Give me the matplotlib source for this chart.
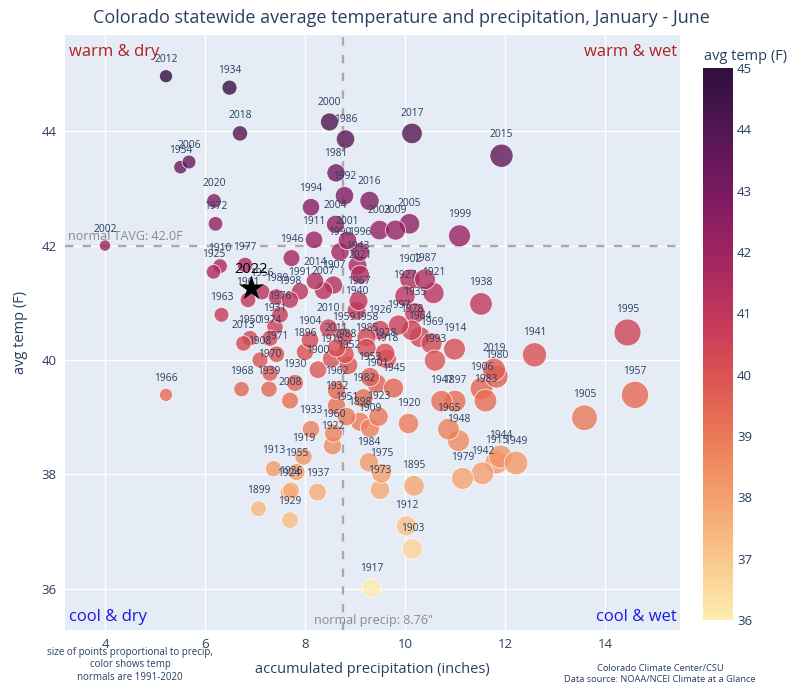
import matplotlib
matplotlib.use("Agg")
import matplotlib.pyplot as plt
from matplotlib.colors import LinearSegmentedColormap, Normalize
import numpy as np

plt.rcParams['font.family'] = ['Open Sans', 'DejaVu Sans']

years = [1895, 1896, 1897, 1898, 1899, 1900, 1901, 1902, 1903, 1904,
         1905, 1906, 1907, 1908, 1909, 1910, 1911, 1912, 1913, 1914,
         1915, 1916, 1917, 1918, 1919, 1920, 1921, 1922, 1923, 1924,
         1925, 1926, 1927, 1928, 1929, 1930, 1931, 1932, 1933, 1934,
         1935, 1936, 1937, 1938, 1939, 1940, 1941, 1942, 1943, 1944,
         1945, 1946, 1947, 1948, 1949, 1950, 1951, 1952, 1953, 1954,
         1955, 1956, 1957, 1958, 1959, 1960, 1961, 1962, 1963, 1964,
         1965, 1966, 1967, 1968, 1969, 1970, 1971, 1972, 1973, 1974,
         1975, 1976, 1977, 1978, 1979, 1980, 1981, 1982, 1983, 1984,
         1985, 1986, 1987, 1988, 1989, 1990, 1991, 1992, 1993, 1994,
         1995, 1996, 1997, 1998, 1999, 2000, 2001, 2002, 2003, 2004,
         2005, 2006, 2007, 2008, 2009, 2010, 2011, 2012, 2013, 2014,
         2015, 2016, 2017, 2018, 2019, 2020, 2021]

precip = [10.18, 8.00, 11.00, 9.10, 7.07, 8.26, 9.43, 10.10, 10.15, 8.10,
          13.59, 11.53, 8.57, 7.10, 9.30, 6.30, 8.18, 10.03, 7.37, 10.99,
          11.83, 8.53, 9.33, 9.63, 7.97, 10.07, 10.57, 8.55, 9.47, 7.67,
          6.17, 9.50, 10.00, 9.60, 7.70, 7.80, 7.40, 8.63, 8.12, 6.49,
          10.20, 7.72, 8.25, 11.52, 7.28, 9.03, 12.59, 11.55, 9.05, 11.91,
          9.77, 7.73, 10.73, 11.07, 12.22, 6.90, 8.83, 8.87, 9.30, 5.51,
          7.83, 7.14, 14.60, 9.23, 8.77, 8.57, 6.86, 8.63, 6.33, 10.30,
          10.87, 5.22, 9.07, 6.73, 10.53, 7.30, 7.43, 6.21, 9.50, 7.30,
          9.53, 7.50, 6.80, 10.13, 11.15, 11.83, 8.62, 9.17, 11.61, 9.28,
          9.23, 8.81, 10.40, 8.80, 7.43, 8.70, 7.90, 8.79, 10.60, 8.12,
          14.45, 9.10, 9.87, 7.70, 11.09, 8.49, 8.85, 4.00, 9.49, 8.61,
          10.09, 5.68, 8.37, 7.70, 9.81, 8.47, 8.63, 5.22, 6.77, 8.20,
          11.93, 9.29, 10.14, 6.70, 11.78, 6.18, 9.10]

temp = [37.80, 40.14, 39.28, 38.92, 37.40, 39.83, 39.59, 41.41, 36.70, 40.35,
        38.99, 39.50, 41.31, 40.00, 38.81, 41.64, 42.10, 37.10, 38.10, 40.19,
        38.21, 40.02, 36.01, 40.02, 38.31, 38.89, 41.17, 38.50, 39.01, 37.69,
        41.54, 40.52, 41.12, 40.12, 37.20, 39.60, 40.58, 39.20, 38.79, 44.76,
        40.82, 37.72, 37.69, 40.98, 39.49, 40.86, 40.09, 38.02, 41.65, 38.31,
        39.51, 41.78, 39.28, 38.59, 38.20, 40.38, 39.01, 39.91, 39.70, 43.37,
        38.04, 41.19, 39.39, 40.40, 40.40, 38.72, 41.05, 39.47, 40.79, 40.40,
        38.79, 39.39, 41.03, 39.49, 40.29, 39.77, 40.10, 42.38, 37.73, 40.38,
        38.02, 40.79, 41.66, 40.52, 37.93, 39.71, 43.27, 39.33, 39.29, 38.21,
        40.21, 43.86, 41.41, 40.10, 41.10, 41.89, 41.20, 42.87, 39.99, 42.67,
        40.48, 41.89, 40.61, 41.05, 42.17, 44.16, 42.09, 42.00, 42.27, 42.37,
        42.38, 43.46, 41.21, 39.29, 42.27, 40.56, 40.21, 44.96, 40.29, 41.38,
        43.57, 42.78, 43.96, 43.96, 39.83, 42.78, 41.49]

year_2022 = 2022
precip_2022 = 6.93
temp_2022 = 41.25

normal_precip = 8.76
normal_tavg = 42.0

x_ticks = [4, 6, 8, 10, 12, 14]
y_ticks = [36, 38, 40, 42, 44]
cbar_ticks = [36, 37, 38, 39, 40, 41, 42, 43, 44, 45]

matter = [(253, 237, 176), (250, 205, 145), (246, 173, 119), (240, 142, 98),
          (231, 109, 84), (216, 80, 83), (195, 56, 90), (168, 40, 96),
          (138, 29, 99), (107, 24, 93), (76, 21, 80), (47, 15, 61)]
cmap = LinearSegmentedColormap.from_list('matter', [tuple(c / 255 for c in rgb) for rgb in matter])
norm = Normalize(vmin=36, vmax=45)

W, H, DPI = 809, 687, 100
fig = plt.figure(figsize=(W / DPI, H / DPI), dpi=DPI)
fig.patch.set_facecolor('white')

L, R, T, B = 65, 680, 35, 630
ax = fig.add_axes([L / W, 1 - B / H, (R - L) / W, (B - T) / H])
ax.set_facecolor('#E5ECF6')
ax.set_xlim(3.2, 15.5)
ax.set_ylim(35.28, 45.68)
for s in ax.spines.values():
    s.set_visible(False)
ax.set_xticks(x_ticks)
ax.set_yticks(y_ticks)
ax.grid(True, color='white', linewidth=1.0)
ax.set_axisbelow(True)
ax.tick_params(length=0, labelsize=9.5, colors='#2a3f5f', pad=6)

px2pt = 72 / DPI
prec = np.array(precip)
tmp = np.array(temp)
diam_px = 5.3 + 1.5 * prec
sizes = (diam_px * px2pt) ** 2

ax.axhline(normal_tavg, color='#a9a9a9', lw=1.7, ls=(0, (3.5, 4)), zorder=1)
ax.axvline(normal_precip, color='#a9a9a9', lw=1.7, ls=(0, (3.5, 4)), zorder=1)

ax.scatter(prec, tmp, s=sizes, c=tmp, cmap=cmap, norm=norm, alpha=0.8,
           edgecolors='white', linewidths=0.6, zorder=3)

for yr, xv, yv, d in zip(years, prec, tmp, diam_px):
    ax.annotate(str(yr), (xv, yv), xytext=(0, (d / 2 + 10) * px2pt),
                textcoords='offset points', ha='center', va='center',
                fontsize=7.4, color='#2a3f5f', zorder=5)

ax.scatter([precip_2022], [temp_2022], marker='*', s=(26 * px2pt) ** 2,
           color='black', zorder=6, linewidths=0)
ax.annotate(str(year_2022), (precip_2022, temp_2022), xytext=(0, 19 * px2pt),
            textcoords='offset points', ha='center', va='center',
            fontsize=10.5, color='black', zorder=7)

ax.text(3.27, normal_tavg + 0.04, 'normal TAVG: 42.0F', fontsize=9,
        color='#8a8a8a', ha='left', va='bottom', zorder=4)
ax.text(normal_precip + 0.6, 35.33, 'normal precip: 8.76"', fontsize=9,
        color='#8a8a8a', ha='center', va='bottom', zorder=4)

ax.text(0.006, 0.985, 'warm & dry', transform=ax.transAxes, ha='left', va='top',
        fontsize=12, color='#b22222')
ax.text(0.995, 0.985, 'warm & wet', transform=ax.transAxes, ha='right', va='top',
        fontsize=12, color='#b22222')
ax.text(0.006, 0.008, 'cool & dry', transform=ax.transAxes, ha='left', va='bottom',
        fontsize=12, color='#1a1ae6')
ax.text(0.995, 0.008, 'cool & wet', transform=ax.transAxes, ha='right', va='bottom',
        fontsize=12, color='#1a1ae6')

ax.set_xlabel('accumulated precipitation (inches)', fontsize=10.5, color='#2a3f5f', labelpad=8)
ax.set_ylabel('avg temp (F)', fontsize=10.5, color='#2a3f5f', labelpad=10)

fig.text(0.496, 1 - 18 / H, 'Colorado statewide average temperature and precipitation, January - June',
         ha='center', va='center', fontsize=13, color='#2a3f5f')

# colorbar
cax = fig.add_axes([703 / W, 1 - 620 / H, 30 / W, (620 - 68) / H])
cb = fig.colorbar(plt.cm.ScalarMappable(norm=norm, cmap=cmap), cax=cax)
cb.outline.set_visible(False)
cb.set_ticks(cbar_ticks)
cax.tick_params(length=0, labelsize=9.5, colors='#2a3f5f', pad=3)
fig.text(746 / W, 1 - 56 / H, 'avg temp (F)', ha='center', va='center', fontsize=10.5, color='#2a3f5f')

fig.text(130 / W, 1 - 665 / H,
         'size of points proportional to precip,\ncolor shows temp\nnormals are 1991-2020',
         ha='center', va='center', fontsize=7, color='#2a3f5f', linespacing=1.25)
fig.text(660 / W, 1 - 674 / H,
         'Colorado Climate Center/CSU\nData source: NOAA/NCEI Climate at a Glance',
         ha='center', va='center', fontsize=6.7, color='#2a3f5f', linespacing=1.25)

fig.savefig('out.png', dpi=DPI)
